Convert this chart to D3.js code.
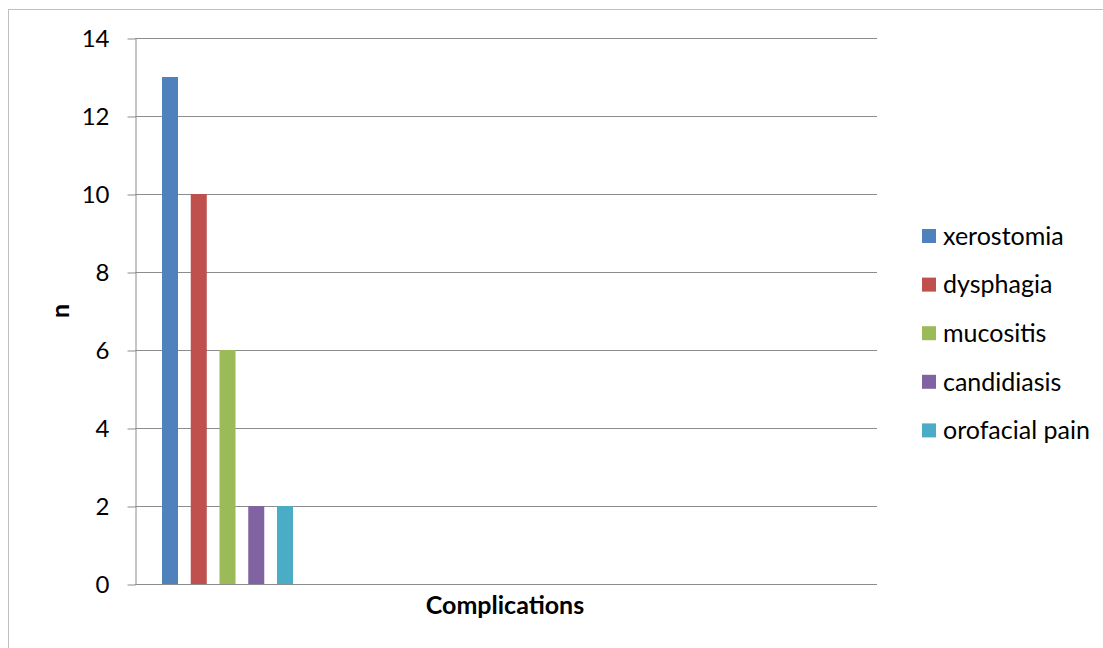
<!DOCTYPE html>
<html>
<head>
<meta charset="utf-8">
<script src="https://cdn.jsdelivr.net/npm/d3@7"></script>
<style>
  html, body { margin: 0; padding: 0; background: #fff; }
  svg { display: block; font-family: Lato, "Open Sans", sans-serif; }
</style>
</head>
<body>
<svg id="chart" width="1103" height="648"></svg>
<script>
// chart data
const complications = ['xerostomia', 'dysphagia', 'mucositis', 'candidiasis', 'orofacial pain'];
const counts = [13, 10, 6, 2, 2];
const colors = ['#4f81bd', '#c0504d', '#9bbb59', '#8064a2', '#4bacc6'];
const yTicks = [0, 2, 4, 6, 8, 10, 12, 14];
const xTitle = 'Complications';
const yTitle = 'n';

const svg = d3.select('#chart');

// outer chart frame (runs off right/bottom edges)
svg.append('rect')
    .attr('x', 8.5)
    .attr('y', 9.5)
    .attr('width', 1120)
    .attr('height', 660)
    .attr('fill', 'none')
    .attr('stroke', '#bfbfbf')
    .attr('stroke-width', 1);

const plot = { left: 135, right: 877, top: 38, bottom: 584 };

const y = d3.scaleLinear()
    .domain([0, 14])
    .range([plot.bottom, plot.top]);

const x = d3.scaleBand()
    .domain(complications)
    .range([162, 293])
    .paddingInner(0.443)
    .paddingOuter(0);

const color = d3.scaleOrdinal()
    .domain(complications)
    .range(colors);

// gridlines
svg.append('g')
    .selectAll('line')
    .data(yTicks)
    .join('line')
    .attr('x1', plot.left)
    .attr('x2', plot.right)
    .attr('y1', d => Math.round(y(d)) + 0.5)
    .attr('y2', d => Math.round(y(d)) + 0.5)
    .attr('stroke', '#8c8c8c')
    .attr('stroke-width', 1);

// y axis
const yAxis = svg.append('g')
    .attr('transform', `translate(${plot.left + 0.5},0.5)`)
    .call(d3.axisLeft(y).tickValues(yTicks).tickSize(8).tickPadding(18).tickSizeOuter(0));

yAxis.select('.domain').attr('stroke', '#8c8c8c');
yAxis.selectAll('.tick line').attr('stroke', '#8c8c8c');
yAxis.selectAll('.tick text')
    .attr('fill', '#000')
    .style('font-size', '24px')
    .style('font-family', 'Lato, sans-serif');

// bars
svg.append('g')
    .selectAll('rect')
    .data(complications)
    .join('rect')
    .attr('x', d => x(d))
    .attr('width', x.bandwidth())
    .attr('y', (d, i) => y(counts[i]))
    .attr('height', (d, i) => y(0) - y(counts[i]))
    .attr('fill', d => color(d));

// axis titles
svg.append('text')
    .attr('x', 505)
    .attr('y', 614)
    .attr('text-anchor', 'middle')
    .style('font-size', '25px')
    .style('font-weight', 'bold')
    .text(xTitle);

svg.append('text')
    .attr('transform', 'translate(69,311) rotate(-90)')
    .attr('text-anchor', 'middle')
    .style('font-size', '25px')
    .style('font-weight', 'bold')
    .text(yTitle);

// legend
const legend = svg.append('g')
    .attr('transform', 'translate(922,236)');

const item = legend.selectAll('g')
    .data(complications)
    .join('g')
    .attr('transform', (d, i) => `translate(0,${i * 48.6})`);

item.append('rect')
    .attr('x', 0)
    .attr('y', -7)
    .attr('width', 14)
    .attr('height', 14)
    .attr('fill', d => color(d));

item.append('text')
    .attr('x', 21)
    .attr('y', 0)
    .attr('dy', '0.35em')
    .style('font-size', '25px')
    .text(d => d);
</script>
</body>
</html>
